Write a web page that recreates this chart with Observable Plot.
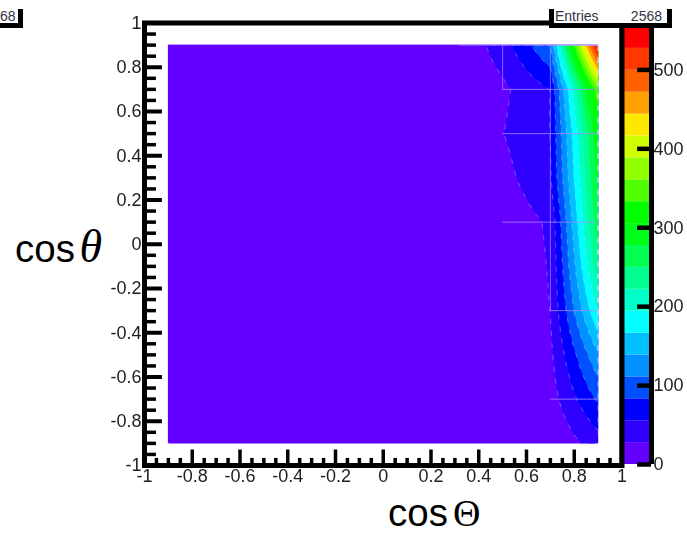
<!DOCTYPE html>
<html><head><meta charset="utf-8">
<script src="https://cdn.jsdelivr.net/npm/d3@7"></script>
<script src="https://cdn.jsdelivr.net/npm/@observablehq/plot@0.6"></script>
<style>
html,body{margin:0;padding:0;background:#fff}
#root{position:relative;width:687px;height:535px;overflow:hidden;font-family:"Liberation Sans",Arial,sans-serif;color:#000}
#root svg{position:absolute;left:0;top:0;background:transparent;overflow:visible}
.lbl{position:absolute;white-space:nowrap;line-height:0.8}
.box{position:absolute;background:#fff;border:solid #000;box-sizing:border-box}
.st{position:absolute;font-size:14px;line-height:1;color:#334}
</style></head><body><div id="root"></div>
<script>
const binX = [-0.9,-0.7,-0.5,-0.3,-0.1,0.1,0.3,0.5,0.7,0.9];
const binY = [0.9,0.7,0.5,0.3,0.1,-0.1,-0.3,-0.5,-0.7,-0.9];
const row09  = [0,0,0,0,0,0,1,42,111,555];
const row07  = [0,0,0,0,0,0,2,22,56,355];
const row05  = [0,0,0,0,0,0,1,27,56,300];
const row03  = [0,0,0,0,0,0,1,18,52,285];
const row01  = [0,0,0,0,0,0,1,8,32,270];
const rowM01 = [0,0,0,0,0,0,0,2,30,240];
const rowM03 = [0,0,0,0,0,0,0,1,28,196];
const rowM05 = [0,0,0,0,0,0,0,1,22,135];
const rowM07 = [0,0,0,0,0,0,0,1,15,88];
const rowM09 = [0,0,0,0,0,0,0,0,2,42];
const rows = [row09,row07,row05,row03,row01,rowM01,rowM03,rowM05,rowM07,rowM09];
const bandColors = ["#6400ff","#3000ff","#0000ff","#0050ff","#0090ff","#00c0ff","#00ffff","#00ffc8","#00ff90","#00ff50","#00ff18","#00ff00","#50ff00","#90ff00","#d0ff00","#ffe800","#ffa000","#ff6000","#ff3800","#ff0000"];
const levelStep = 27.75;
const axisTicks = [-1,-0.8,-0.6,-0.4,-0.2,0,0.2,0.4,0.6,0.8,1];
const minorTicks = d3.range(-20,21).map(i=>i/20).filter(v=>Math.abs(v*5-Math.round(v*5))>1e-6);
const zTicks = [0,100,200,300,400,500];
const hSeams = [{y:0.9,a:0.32,b:0.9},{y:0.7,a:0.5,b:0.9},{y:0.5,a:0.5,b:0.9},{y:0.1,a:0.5,b:0.9},{y:-0.3,a:0.7,b:0.9},{y:-0.7,a:0.7,b:0.9}];
const vSeams = [{x:0.5,a:0.7,b:0.9},{x:0.7,a:0.1,b:0.9},{x:0.7,a:-0.3,b:0.1}];

const points = binY.flatMap((y,j)=>binX.map((x,i)=>({x,y,z:rows[j][i]})));
const levels = bandColors.map((c,i)=>i*levelStep);
const font = '"Liberation Sans",Arial,sans-serif';
const txt = "#222";

// Bilinear reading between the ten bin centres, handed to Plot's contour mark
function bilinear(index,w,h,X,Y,V){
  const ux=[...new Set(Array.from(index,i=>X[i]))].sort(d3.ascending);
  const uy=[...new Set(Array.from(index,i=>Y[i]))].sort(d3.ascending);
  const grid=new Map();
  for(const i of index) grid.set(X[i]+"|"+Y[i],V[i]);
  const out=new Float64Array(w*h);
  const cell=(u,p)=>{let k=d3.bisectRight(u,p)-1;k=Math.max(0,Math.min(u.length-2,k));return [k,Math.max(0,Math.min(1,(p-u[k])/(u[k+1]-u[k])))];};
  for(let py=0;py<h;py++){
    const [j,t]=cell(uy,py+0.5);
    for(let px=0;px<w;px++){
      const [i,s]=cell(ux,px+0.5);
      const a=grid.get(ux[i]+"|"+uy[j]),b=grid.get(ux[i+1]+"|"+uy[j]),c=grid.get(ux[i]+"|"+uy[j+1]),d=grid.get(ux[i+1]+"|"+uy[j+1]);
      out[py*w+px]=(1-t)*((1-s)*a+s*b)+t*((1-s)*c+s*d);
    }
  }
  return out;
}
const extent={x1:-0.9,x2:0.9,y1:-0.9,y2:0.9,pixelSize:1,interpolate:bilinear};

const main = Plot.plot({
  width:687,height:535,marginLeft:144,marginRight:65.5,marginTop:22.5,marginBottom:70,
  style:{fontFamily:font,fontSize:"18px",background:"transparent",color:txt,filter:"blur(0.35px)"},
  x:{domain:[-1,1]},y:{domain:[-1,1]},
  color:{type:"threshold",domain:levels.slice(1),range:bandColors},
  marks:[
    Plot.rect([{}],{x1:-0.9,x2:0.9,y1:-0.9,y2:0.9,fill:bandColors[0]}),
    Plot.contour(points,{x:"x",y:"y",fill:"z",thresholds:levels,...extent}),
    Plot.contour(points,{x:"x",y:"y",value:"z",thresholds:levels.slice(1,8),stroke:"#d8d0ff",strokeOpacity:0.4,strokeWidth:1,strokeDasharray:"5,7",...extent}),
    Plot.ruleY(hSeams,{y:"y",x1:"a",x2:"b",stroke:"#a08cff",strokeOpacity:0.8,strokeWidth:1}),
    Plot.ruleX(vSeams,{x:"x",y1:"a",y2:"b",stroke:"#a08cff",strokeOpacity:0.7,strokeWidth:1}),
    Plot.ruleX(minorTicks,{y1:-1,y2:-0.968,stroke:"#000",strokeWidth:3.5}),
    Plot.ruleX(axisTicks,{y1:-1,y2:-0.93,stroke:"#000",strokeWidth:3.5}),
    Plot.ruleY(minorTicks,{x1:-1,x2:-0.95,stroke:"#000",strokeWidth:3.5}),
    Plot.ruleY(axisTicks,{x1:-1,x2:-0.925,stroke:"#000",strokeWidth:4}),
    Plot.axisX({ticks:axisTicks,tickSize:0,tickPadding:4,tickFormat:d=>String(d),label:null,fontSize:18}),
    Plot.axisY({ticks:axisTicks,tickSize:0,tickPadding:3,tickFormat:d=>String(d),label:null,fontSize:18}),
    Plot.frame({stroke:"#000",strokeWidth:5})
  ]
});

const bands = bandColors.map((c,i)=>({lo:i*levelStep,hi:(i+1)*levelStep,c}));
const bar = Plot.plot({
  width:687,height:535,marginLeft:621.5,marginRight:36,marginTop:26,marginBottom:71,
  style:{fontFamily:font,fontSize:"18px",background:"transparent",color:txt,filter:"blur(0.35px)"},
  x:{domain:[0,1],axis:null},
  y:{domain:[0,555]},
  marks:[
    Plot.rect(bands,{x1:0,x2:1,y1:"lo",y2:"hi",fill:"c"}),
    Plot.ruleY(zTicks,{x1:0.53,x2:1,stroke:"#000",strokeWidth:4.5}),
    Plot.ruleX([0,1],{stroke:"#000",strokeWidth:5}),
    Plot.axisY({anchor:"right",ticks:zTicks,tickSize:0,tickPadding:2,label:null,fontSize:18,tickFormat:d=>String(d)})
  ]
});

const root = document.getElementById("root");
root.append(main,bar);
function add(cls,css,text){const d=document.createElement("div");d.className=cls;d.style.cssText=css;if(text)d.textContent=text;root.append(d);return d;}
// cropped statistics boxes
add("box","left:549px;top:-5px;width:123px;height:33px;border-width:0 5px 5px 5px");
add("box","left:-10px;top:-5px;width:33px;height:33px;border-width:0 5px 5px 0");
add("box","left:0;top:-20px;width:687px;height:29px;border:none");
add("st","left:555px;top:9px","Entries");
add("st","left:628px;top:9px;width:34px;text-align:right","2568");
add("st","left:0;top:9px","68");
// axis titles
function title(x,y,parts){const d=add("lbl",`left:${x}px;top:${y}px`);parts.forEach(p=>{const s=document.createElement("span");s.textContent=p[0];s.style.cssText=p[1];d.append(s);});}
title(15,229,[["cos",'font-size:38.5px;font-family:"Liberation Sans"'],["\u00a0",'font-size:16px'],["θ",'font-size:46px;font-family:"Liberation Serif";font-style:italic']]);
title(388,498,[["cos",'font-size:38.5px;font-family:"Liberation Sans"'],["\u00a0",'font-size:18px'],["Θ",'font-size:38px;font-family:"Liberation Serif"']]);
</script></body></html>
